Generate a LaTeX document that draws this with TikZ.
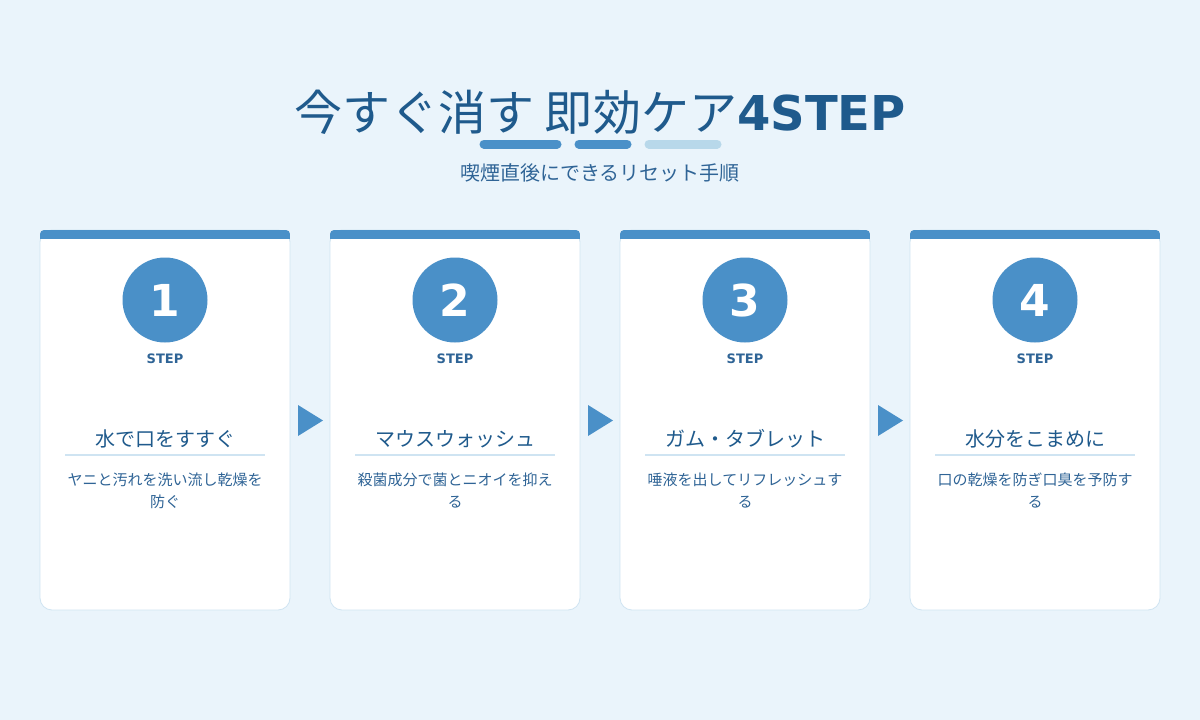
\documentclass[tikz,border=0pt]{standalone}
\usepackage{fontspec}
\setmainfont{DejaVu Sans}
\newfontfamily\jp{Noto Sans CJK JP}
\newfontfamily\dv{DejaVu Sans}
\definecolor{bg}{HTML}{EAF4FB}
\definecolor{dk}{HTML}{1F5A8C}
\definecolor{mb}{HTML}{4A90C8}
\definecolor{lb}{HTML}{B8D8EA}
\definecolor{bd}{HTML}{CFE4F2}
\definecolor{tx}{HTML}{2F6496}
\tikzset{
 card/.style={draw=bd,fill=white,rounded corners=12pt,line width=0.8pt},
 num/.style={circle,fill=mb,minimum size=85pt,inner sep=0pt,text=white,font=\dv\bfseries\fontsize{44}{44}\selectfont},
 steplbl/.style={text=tx,font=\dv\bfseries\fontsize{13}{13}\selectfont},
 ttl/.style={text=dk,font=\jp\fontsize{20}{20}\selectfont},
 desc/.style={text=tx,font=\jp\fontsize{15}{22}\selectfont,align=center},
 arr/.style={fill=mb,draw=none}
}
\begin{document}
\begin{tikzpicture}[x=1pt,y=-1pt]
\fill[bg] (0,0) rectangle (1200,720);
\useasboundingbox (0,0) rectangle (1200,720);
\node[anchor=base,text=dk,inner sep=0pt] (title) at (600,130) {{\jp\fontsize{48}{48}\selectfont 今すぐ消す 即効ケア}{\dv\bfseries\fontsize{48}{48}\selectfont 4STEP}};
\draw[mb,line width=9pt,line cap=round] (484,144) -- (557,144);
\draw[mb,line width=9pt,line cap=round] (579,144) -- (627,144);
\draw[lb,line width=9pt,line cap=round] (649,144) -- (717,144);
\node[anchor=base,text=tx,font=\jp\fontsize{20}{20}\selectfont] (sub) at (600,180) {喫煙直後にできるリセット手順};
\foreach \i/\t/\da/\db in {1/水で口をすすぐ/ヤニと汚れを洗い流し乾燥を/防ぐ,2/マウスウォッシュ/殺菌成分で菌とニオイを抑え/る,3/ガム・タブレット/唾液を出してリフレッシュす/る,4/水分をこまめに/口の乾燥を防ぎ口臭を予防す/る}{
 \pgfmathsetmacro{\cx}{165+290*(\i-1)}
 \draw[card] (\cx-125,230) rectangle (\cx+125,610);
 \begin{scope}
 \clip[rounded corners=4pt] (\cx-125,230) rectangle (\cx+125,250);
 \fill[mb] (\cx-125,230) rectangle (\cx+125,239);
 \end{scope}
 \node[num] (n\i) at (\cx,300) {\i};
 \node[steplbl,anchor=base] (s\i) at (\cx,363) {STEP};
 \node[ttl,anchor=base] (t\i) at (\cx,446) {\t};
 \draw[bd,line width=1.5pt] (\cx-100,455) -- (\cx+100,455);
 \node[desc,anchor=base] (d\i) at (\cx,485) {\da};
 \node[desc,anchor=base] (e\i) at (\cx,507) {\db};
}
\foreach \i in {1,2,3}{
 \pgfmathsetmacro{\ax}{298+290*(\i-1)}
 \fill[arr] (\ax,405) -- (\ax+25,420.5) -- (\ax,436) -- cycle;
}
\end{tikzpicture}
\end{document}
